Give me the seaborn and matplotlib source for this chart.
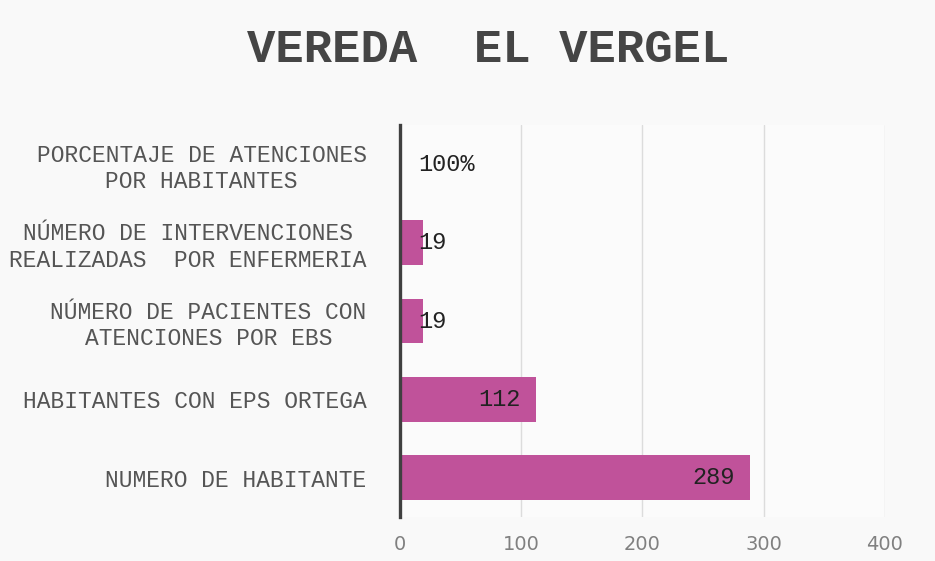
import matplotlib
matplotlib.use("Agg")
import matplotlib.pyplot as plt
import seaborn as sns
import pandas as pd

categories = [
    "PORCENTAJE DE ATENCIONES\nPOR HABITANTES",
    "NÚMERO DE INTERVENCIONES\nREALIZADAS  POR ENFERMERIA",
    "NÚMERO DE PACIENTES CON\nATENCIONES POR EBS",
    "HABITANTES CON EPS ORTEGA",
    "NUMERO DE HABITANTE",
]
values = [1, 19, 19, 112, 289]
value_labels = ["100%", "19", "19", "112", "289"]
x_ticks = [0, 100, 200, 300, 400]
title = "VEREDA  EL VERGEL"

df = pd.DataFrame({"cat": categories, "val": values})

sns.set_theme(style="white")
plt.rcParams["font.family"] = ["DejaVu Sans"]

fig = plt.figure(figsize=(9.35, 5.61), dpi=100, facecolor="#f9f9f9")
ax = fig.add_axes([0.4278, 0.0784, 0.5187, 0.6988])
ax.set_facecolor("#fbfbfb")

sns.barplot(data=df, y="cat", x="val", orient="h", color="#c0529a",
            saturation=1, width=0.57, ax=ax, edgecolor="none")

ax.set_xlim(0, 400)
ax.set_xticks(x_ticks)
ax.set_xticklabels([str(t) for t in x_ticks], fontsize=14, color="#808080")
ax.set_xlabel("")
ax.set_ylabel("")
ax.tick_params(axis="x", length=0, pad=13)
ax.tick_params(axis="y", length=0, pad=24)
for lab in ax.get_yticklabels():
    lab.set_family("Liberation Mono")
    lab.set_fontsize(16.5)
    lab.set_color("#555555")
    lab.set_multialignment("center")

ax.grid(axis="x", color="#dcdcdc", linewidth=1)
ax.set_axisbelow(True)
for s in ["top", "right", "bottom"]:
    ax.spines[s].set_visible(False)
ax.spines["left"].set_color("#404040")
ax.spines["left"].set_linewidth(2.4)
ax.spines["left"].set_zorder(5)

for i, (v, lab) in enumerate(zip(values, value_labels)):
    if v < 50:
        ax.annotate(lab, xy=(0, i), xytext=(13, 0), textcoords="offset points",
                    ha="left", va="center", fontsize=17, family="Liberation Mono",
                    color="#222222")
    else:
        ax.annotate(lab, xy=(v, i), xytext=(-11, 0), textcoords="offset points",
                    ha="right", va="center", fontsize=17, family="Liberation Mono",
                    color="#222222")

fig.text(0.522, 0.889, title, ha="center", va="baseline", fontsize=34,
         fontweight="bold", family="Liberation Mono", color="#454545")

fig.savefig("out.png", dpi=100, facecolor=fig.get_facecolor())
